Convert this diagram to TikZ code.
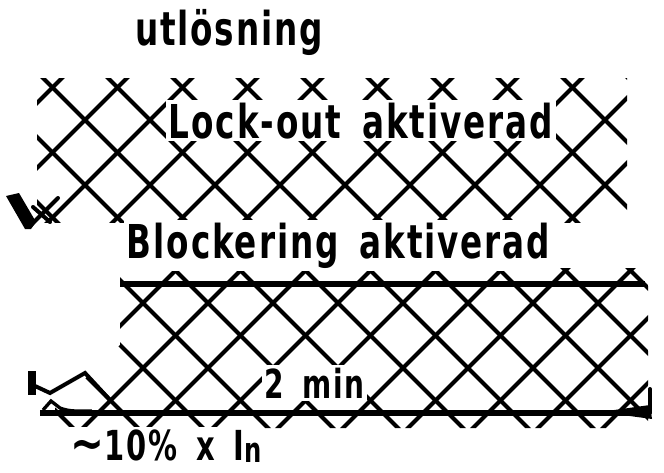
\documentclass[tikz,border=0pt]{standalone}
\usepackage{fontspec}
\setmainfont{DejaVu Sans}[FakeStretch=0.7, LetterSpace=4, WordSpace=1.6, UprightFont=* Bold]
\usetikzlibrary{calc}

\tikzset{
  hatch/.style={line width=3pt, line cap=round},
  bar/.style={line width=4.5pt},
  txt/.style={fill=white, inner sep=2pt, font=\fontsize{35}{40}\selectfont},
}

\begin{document}
\begin{tikzpicture}[x=0.75pt,y=0.75pt,yscale=-1,xscale=1]
\path[use as bounding box] (0,0) rectangle (664,472);

%Hatch: Lock-out band
\begin{scope}
\clip (37,78) rectangle (627,222);
\foreach \k in {-10,...,18}{
  \draw[hatch] ({-35+65*\k},0) -- ({-35+65*\k+472},472);
  \draw[hatch] ({205+65*\k},0) -- ({205+65*\k-472},472);
}
\end{scope}

%Hatch: Blockering band
\begin{scope}
\clip (120,268) -- (648,268) -- (648,428) -- (55,428) -- (55,408) -- (120,345) -- cycle;
\foreach \k in {-10,...,18}{
  \draw[hatch] ({35+65*\k},0) -- ({35+65*\k+472},472);
  \draw[hatch] ({56+65*\k},0) -- ({56+65*\k-472},472);
}
\end{scope}

%Lines
\coordinate (blkL) at (120,284);
\coordinate (blkR) at (645,284);
\draw[bar] (blkL) -- (blkR);
\coordinate (timL) at (40,413);
\coordinate (timR) at (650,413);
\draw[bar] (timL) -- (timR);
% right end of time line
\fill (600,412) -- (650,405) -- (652,419) -- cycle;
\draw[hatch] (timR) -- ++(0,-24);
% left end of time line
\draw[line width=2.5pt] (43,410) -- (51,401) -- (60,408) .. controls (70,412) and (80,411) .. (92,411);
% current curve
\draw[line width=6pt] (32,371) -- (32,395);
\draw[hatch] (35,386) -- (50,393) -- (85,373) -- (110,400);
% marker at left
\fill (6,196) -- (19,193) -- (36,222) -- (31,229) -- (25,229) -- cycle;
\draw[hatch] (30,226) -- (58,198);
\draw[hatch] (33,207) -- (50,222);

% Text Node
\node[txt, anchor=base] (utl) at (229,45) {utlösning};
% Text Node
\node[txt, anchor=base west] (lock) at (166,138) {Lock-out aktiverad};
% Text Node
\node[txt, anchor=base west] (blk) at (124,258) {Blockering aktiverad};
% Text Node
\node[txt, anchor=base west, font=\fontsize{30}{36}\selectfont] (tmin) at (262,398) {2 min};
% Text Node
\node[txt, anchor=base west, font=\fontsize{31}{38}\selectfont] (pct) at (68,460) {\scalebox{1.4}[1.2]{\textasciitilde}10\% x I\raisebox{-2pt}{\fontsize{26}{26}\selectfont n}};

\end{tikzpicture}
\end{document}
